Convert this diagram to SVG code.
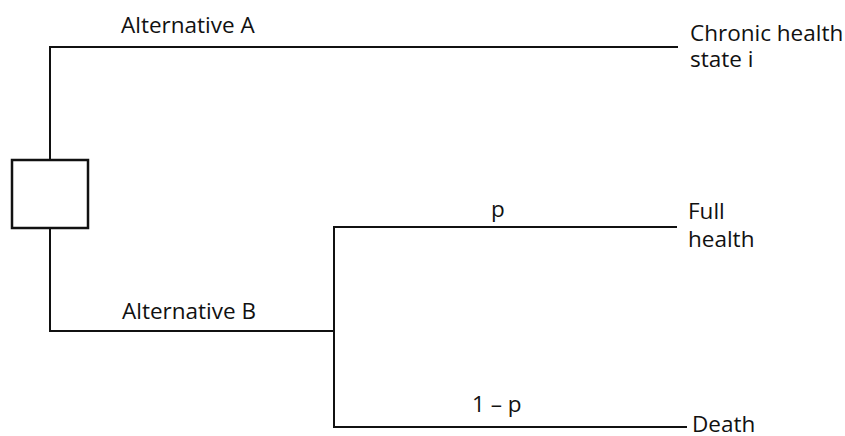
<svg xmlns="http://www.w3.org/2000/svg" width="845" height="436" viewBox="0 0 845 436">
  <style>
    .ln { fill: none; stroke: #111; stroke-width: 2; stroke-linecap: square; }
    .box { fill: #fff; stroke: #111; stroke-width: 2.5; }
    text { font-family: "Open Sans", "Noto Sans", "Liberation Sans", sans-serif; font-size: 22.5px; fill: #111; }
  </style>
  <rect width="845" height="436" fill="#fff"/>
  <g id="connectors">
    <path class="ln" d="M50 47 H677"/>
    <path class="ln" d="M50 47 V160"/>
    <path class="ln" d="M50 228 V331 H334"/>
    <path class="ln" d="M334 227 V427"/>
    <path class="ln" d="M334 227 H676"/>
    <path class="ln" d="M334 427 H686"/>
    <text x="121" y="33">Alternative A</text>
    <text x="122" y="319">Alternative B</text>
    <text x="491" y="217">p</text>
    <text x="472" y="412">1 – p</text>
  </g>
  <g id="decision">
    <rect class="box" x="12" y="160" width="76" height="68"/>
  </g>
  <g id="outcome-chronic">
    <text x="690" y="41">Chronic health</text>
    <text x="690" y="67">state i</text>
  </g>
  <g id="outcome-full">
    <text x="688" y="219">Full</text>
    <text x="688" y="247">health</text>
  </g>
  <g id="outcome-death">
    <text x="692" y="432">Death</text>
  </g>
</svg>
